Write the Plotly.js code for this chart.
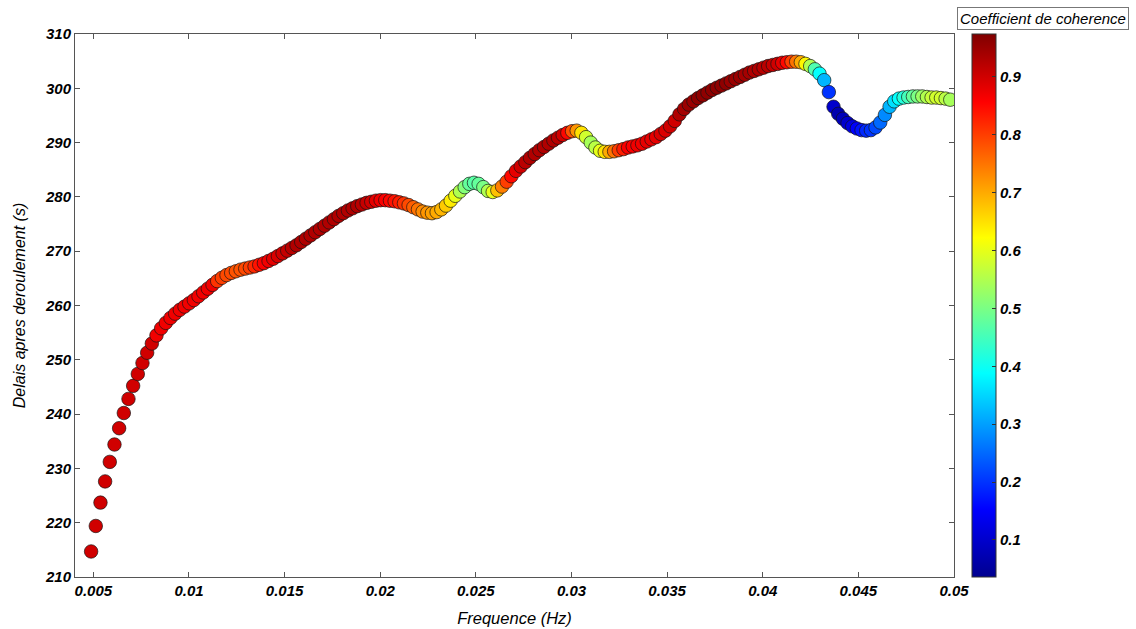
<!DOCTYPE html>
<html>
<head>
<meta charset="utf-8">
<script src="https://cdn.plot.ly/plotly-3.0.1.min.js"></script>
<style>html,body{margin:0;padding:0;background:#fff;}#chart{width:1136px;height:629px;}</style>
</head>
<body>
<div id="chart"></div>
<script>
// Frequency (Hz)
const freq = [
0.004883,0.005127,0.005371,0.005615,0.005859,0.006104,0.006348,0.006592,0.006836,0.007080,
0.007324,0.007568,0.007813,0.008057,0.008301,0.008545,0.008789,0.009033,0.009277,0.009521,
0.009766,0.010010,0.010254,0.010498,0.010742,0.010986,0.011230,0.011475,0.011719,0.011963,
0.012207,0.012451,0.012695,0.012939,0.013184,0.013428,0.013672,0.013916,0.014160,0.014404,
0.014648,0.014893,0.015137,0.015381,0.015625,0.015869,0.016113,0.016357,0.016602,0.016846,
0.017090,0.017334,0.017578,0.017822,0.018066,0.018311,0.018555,0.018799,0.019043,0.019287,
0.019531,0.019775,0.020020,0.020264,0.020508,0.020752,0.020996,0.021240,0.021484,0.021729,
0.021973,0.022217,0.022461,0.022705,0.022949,0.023193,0.023438,0.023682,0.023926,0.024170,
0.024414,0.024658,0.024902,0.025146,0.025391,0.025635,0.025879,0.026123,0.026367,0.026611,
0.026855,0.027100,0.027344,0.027588,0.027832,0.028076,0.028320,0.028564,0.028809,0.029053,
0.029297,0.029541,0.029785,0.030029,0.030273,0.030518,0.030762,0.031006,0.031250,0.031494,
0.031738,0.031982,0.032227,0.032471,0.032715,0.032959,0.033203,0.033447,0.033691,0.033936,
0.034180,0.034424,0.034668,0.034912,0.035156,0.035400,0.035645,0.035889,0.036133,0.036377,
0.036621,0.036865,0.037109,0.037354,0.037598,0.037842,0.038086,0.038330,0.038574,0.038818,
0.039063,0.039307,0.039551,0.039795,0.040039,0.040283,0.040527,0.040771,0.041016,0.041260,
0.041504,0.041748,0.041992,0.042236,0.042480,0.042725,0.042969,0.043213,0.043457,0.043701,
0.043945,0.044189,0.044434,0.044678,0.044922,0.045166,0.045410,0.045654,0.045898,0.046143,
0.046387,0.046631,0.046875,0.047119,0.047363,0.047607,0.047852,0.048096,0.048340,0.048584,
0.048828,0.049072,0.049316,0.049561,0.049805
];
// Delay after unwrapping (s)
const delay = [
214.7,219.4,223.7,227.6,231.2,234.4,237.4,240.2,242.8,245.2,
247.4,249.4,251.3,253.0,254.5,255.8,256.8,257.7,258.5,259.2,
259.8,260.4,261.0,261.7,262.4,263.1,263.8,264.5,265.1,265.6,
266.0,266.3,266.6,266.8,267.0,267.2,267.5,267.8,268.2,268.6,
269.1,269.6,270.1,270.6,271.1,271.7,272.3,272.9,273.5,274.1,
274.7,275.3,275.9,276.5,277.0,277.5,277.9,278.3,278.6,278.9,
279.1,279.3,279.4,279.4,279.3,279.2,279.0,278.8,278.5,278.1,
277.7,277.3,277.1,277.0,277.2,277.7,278.4,279.3,280.2,281.0,
281.8,282.4,282.6,282.4,281.8,281.1,280.9,281.2,281.9,282.8,
283.8,284.8,285.6,286.4,287.2,287.9,288.6,289.2,289.8,290.4,
290.9,291.4,291.8,292.1,292.2,291.8,291.0,290.0,289.1,288.5,
288.3,288.3,288.4,288.6,288.8,289.1,289.3,289.5,289.8,290.2,
290.6,291.0,291.6,292.2,293.0,294.0,295.2,296.2,297.0,297.6,
298.2,298.7,299.2,299.7,300.1,300.5,300.9,301.3,301.7,302.1,
302.5,302.9,303.2,303.5,303.8,304.1,304.3,304.5,304.7,304.8,
304.9,304.9,304.8,304.5,304.1,303.5,302.7,301.5,299.3,296.6,
295.3,294.4,293.6,293.0,292.6,292.3,292.2,292.3,292.8,293.7,
295.1,296.6,297.6,298.1,298.3,298.4,298.5,298.5,298.5,298.4,
298.3,298.3,298.2,298.1,297.9
];
// Coherence coefficient
const coherence = [
0.90,0.90,0.90,0.90,0.90,0.90,0.90,0.90,0.90,0.90,
0.90,0.90,0.90,0.90,0.87,0.87,0.87,0.87,0.87,0.87,
0.87,0.87,0.87,0.87,0.87,0.87,0.87,0.81,0.80,0.79,
0.79,0.78,0.78,0.79,0.80,0.82,0.84,0.86,0.87,0.88,
0.89,0.90,0.91,0.92,0.93,0.93,0.93,0.93,0.93,0.93,
0.93,0.93,0.93,0.93,0.93,0.93,0.93,0.93,0.92,0.91,
0.90,0.88,0.87,0.86,0.85,0.84,0.83,0.81,0.79,0.77,
0.75,0.73,0.72,0.71,0.70,0.69,0.67,0.64,0.60,0.55,
0.51,0.48,0.47,0.48,0.50,0.55,0.60,0.68,0.74,0.80,
0.85,0.88,0.90,0.92,0.93,0.93,0.93,0.93,0.93,0.93,
0.92,0.90,0.85,0.78,0.72,0.65,0.58,0.54,0.56,0.60,
0.65,0.70,0.75,0.80,0.83,0.86,0.86,0.87,0.87,0.88,
0.88,0.88,0.89,0.89,0.90,0.90,0.93,0.94,0.95,0.95,
0.96,0.96,0.96,0.96,0.96,0.96,0.96,0.95,0.95,0.95,
0.94,0.94,0.93,0.93,0.92,0.92,0.91,0.90,0.88,0.85,
0.80,0.75,0.70,0.63,0.55,0.46,0.39,0.32,0.20,0.10,
0.07,0.08,0.10,0.12,0.15,0.17,0.19,0.20,0.22,0.25,
0.28,0.32,0.36,0.39,0.42,0.45,0.48,0.50,0.53,0.55,
0.57,0.58,0.58,0.56,0.54
];
const cbTicks = [0.1,0.2,0.3,0.4,0.5,0.6,0.7,0.8,0.9];
const xTicks = [0.005,0.01,0.015,0.02,0.025,0.03,0.035,0.04,0.045,0.05];
const xTickText = ['0.005','0.01','0.015','0.02','0.025','0.03','0.035','0.04','0.045','0.05'];

const jet = [[0,'#00008F'],[0.125,'#0000FF'],[0.375,'#00FFFF'],[0.625,'#FFFF00'],[0.875,'#FF0000'],[1,'#800000']];
const FONT = 'Liberation Sans, Arial, Helvetica, sans-serif';
const tickFont = {family: FONT, size: 15, color: '#000', weight: 'bold', style: 'italic'};

const trace = {
  type: 'scatter', mode: 'markers', x: freq, y: delay,
  marker: {
    size: 13.5, color: coherence, cmin: 0.036, cmax: 0.974, colorscale: jet,
    line: {color: 'rgba(20,20,20,0.85)', width: 0.8},
    showscale: true,
    colorbar: {
      x: 1.0205, xanchor: 'left', xpad: 0, y: 0.5, yanchor: 'middle', len: 1.0, lenmode: 'fraction',
      thickness: 24, thicknessmode: 'pixels', outlinecolor: '#333', outlinewidth: 1,
      tickvals: cbTicks, ticktext: cbTicks.map(v => v.toFixed(1)),
      ticks: 'inside', ticklen: 4, tickcolor: '#333', tickfont: tickFont, ypad: 0
    }
  },
  hoverinfo: 'x+y'
};

const layout = {
  width: 1136, height: 629,
  margin: {l: 75, r: 182, t: 34, b: 52, pad: 0},
  paper_bgcolor: '#fff', plot_bgcolor: '#fff',
  showlegend: false,
  font: {family: FONT, color: '#000'},
  xaxis: {
    range: [0.00404, 0.05], tickvals: xTicks, ticktext: xTickText,
    ticks: 'inside', ticklen: 5, tickcolor: '#555', showgrid: false, zeroline: false,
    showline: true, linecolor: '#555', linewidth: 1, mirror: 'ticks',
    tickfont: tickFont,
    title: {text: 'Frequence (Hz)', font: {family: FONT, size: 16.5, style: 'italic', color: '#000'}, standoff: 14}
  },
  yaxis: {
    range: [210, 310], dtick: 10, tick0: 210,
    ticks: 'inside', ticklen: 5, tickcolor: '#555', showgrid: false, zeroline: false,
    showline: true, linecolor: '#555', linewidth: 1, mirror: 'ticks',
    tickfont: tickFont,
    title: {text: 'Delais apres deroulement (s)', font: {family: FONT, size: 16, style: 'italic', color: '#000'}, standoff: 15}
  },
  annotations: [{
    xref: 'paper', yref: 'paper', x: 1.1018, y: 1.0286, xanchor: 'center', yanchor: 'middle',
    text: 'Coefficient de coherence', showarrow: false,
    font: {family: FONT, size: 15, style: 'italic', color: '#000'},
    bordercolor: '#777', borderwidth: 1, borderpad: 2, bgcolor: '#fff'
  }]
};

Plotly.newPlot('chart', [trace], layout, {displayModeBar: false, staticPlot: true});
</script>
</body>
</html>
